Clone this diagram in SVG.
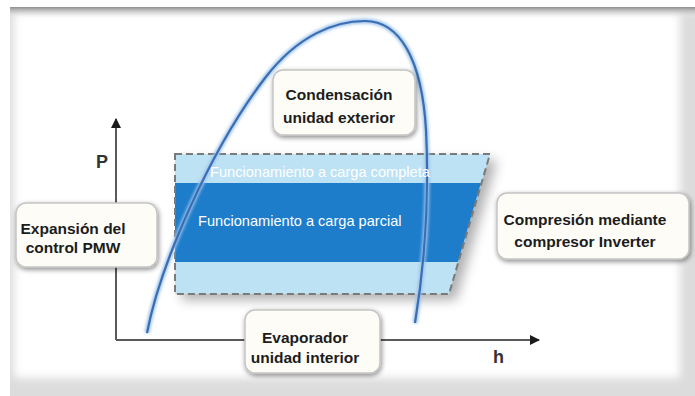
<svg xmlns="http://www.w3.org/2000/svg" width="695" height="396" viewBox="0 0 695 396">
  <defs>
    <style>
      .box { fill: #fdfcf7; stroke: #c4c4c4; stroke-width: 1.5; filter: url(#shadow); }
      .lbl { font-family: "Liberation Sans", Arial, sans-serif; font-weight: bold; font-size: 15.5px; fill: #1c1c1c; text-anchor: middle; }
      .band { font-family: "Liberation Sans", Arial, sans-serif; font-size: 14.6px; fill: #ffffff; }
      .axis { stroke: #5a5a5a; stroke-width: 2; fill: none; }
      .axlbl { font-family: "Liberation Sans", Arial, sans-serif; font-weight: bold; font-size: 18px; fill: #333333; }
      .curve { fill: none; }
    </style>
    <filter id="shadow" x="-20%" y="-20%" width="140%" height="150%">
      <feGaussianBlur in="SourceAlpha" stdDeviation="2.5"/>
      <feOffset dx="1" dy="2" result="b"/>
      <feComponentTransfer><feFuncA type="linear" slope="0.45"/></feComponentTransfer>
      <feMerge><feMergeNode/><feMergeNode in="SourceGraphic"/></feMerge>
    </filter>
    <filter id="blur6" x="-20%" y="-20%" width="140%" height="140%">
      <feGaussianBlur stdDeviation="6"/>
    </filter>
    <filter id="blur4" x="-5%" y="-5%" width="110%" height="110%">
      <feGaussianBlur stdDeviation="4"/>
    </filter>
    <filter id="glow" x="-10%" y="-10%" width="120%" height="120%">
      <feGaussianBlur stdDeviation="1.5"/>
    </filter>
    <linearGradient id="topg" x1="0" y1="0" x2="0" y2="1">
      <stop offset="0" stop-color="#8e8e8e"/>
      <stop offset="1" stop-color="#ffffff" stop-opacity="0"/>
    </linearGradient>
    <marker id="arr" markerWidth="10" markerHeight="10" refX="9" refY="5" orient="auto" markerUnits="userSpaceOnUse">
      <path d="M0,0 L10,5 L0,10 Z" fill="#1a1a1a"/>
    </marker>
  </defs>

  <!-- frame -->
  <rect x="0" y="0" width="695" height="396" fill="#ffffff"/>
  <rect x="10" y="7" width="685" height="389" fill="#dcdcdc"/>
  <rect x="14" y="12" width="666" height="366" fill="#ffffff" filter="url(#blur4)"/>
  <rect x="10" y="7" width="685" height="12" fill="url(#topg)"/>

  <!-- operating zone -->
  <g id="zona">
    <polygon points="182,160 497,160 456,300 182,300" fill="#707070" opacity="0.55" filter="url(#blur6)"/>
    <polygon points="175,154 490,154 449,294 175,294" fill="#bde2f4"/>
    <polygon points="175,183 481,183 458,262 175,262" fill="#1d7dcb"/>
    <polygon points="175,154 490,154 449,294 175,294" fill="none" stroke="#7a7a7a" stroke-width="2" stroke-dasharray="7,4"/>
  </g>

  <!-- saturation curve -->
  <g id="curva">
    <path class="curve" d="M147,333 C160,265 210,150 265,78 C298,35 335,21 365,21 C400,21 422,60 426,130 C430,210 422,280 415,323" stroke="#9cc3ea" stroke-width="5" filter="url(#glow)"/>
    <path class="curve" d="M147,333 C160,265 210,150 265,78 C298,35 335,21 365,21 C400,21 422,60 426,130 C430,210 422,280 415,323" stroke="#3a6db3" stroke-width="2.2"/>
  </g>

  <g id="bandas">
    <text class="band" x="210" y="177">Funcionamiento a carga completa</text>
    <text class="band" x="198" y="226">Funcionamiento a carga parcial</text>
  </g>

  <!-- connectors: axes -->
  <g id="connectors">
    <path class="axis" d="M116,340 L116,119" marker-end="url(#arr)"/>
    <path class="axis" d="M116,340 L539,340" marker-end="url(#arr)"/>
  </g>
  <text class="axlbl" x="96" y="168">P</text>
  <text class="axlbl" x="493" y="363">h</text>

  <g id="condensacion">
    <rect class="box" x="273" y="70" width="142" height="65" rx="10"/>
    <text class="lbl" x="339" y="100">Condensación</text>
    <text class="lbl" x="339" y="123">unidad exterior</text>
  </g>

  <g id="expansion">
    <rect class="box" x="16" y="203" width="141" height="64" rx="10"/>
    <text class="lbl" x="73" y="234">Expansión del</text>
    <text class="lbl" x="73" y="253">control PMW</text>
  </g>

  <g id="compresion">
    <rect class="box" x="497" y="193" width="192" height="66" rx="10"/>
    <text class="lbl" x="585" y="225">Compresión mediante</text>
    <text class="lbl" x="585" y="247">compresor Inverter</text>
  </g>

  <g id="evaporador">
    <rect class="box" x="245" y="310" width="135" height="63" rx="10"/>
    <text class="lbl" x="305" y="343">Evaporador</text>
    <text class="lbl" x="305" y="363">unidad interior</text>
  </g>
</svg>
